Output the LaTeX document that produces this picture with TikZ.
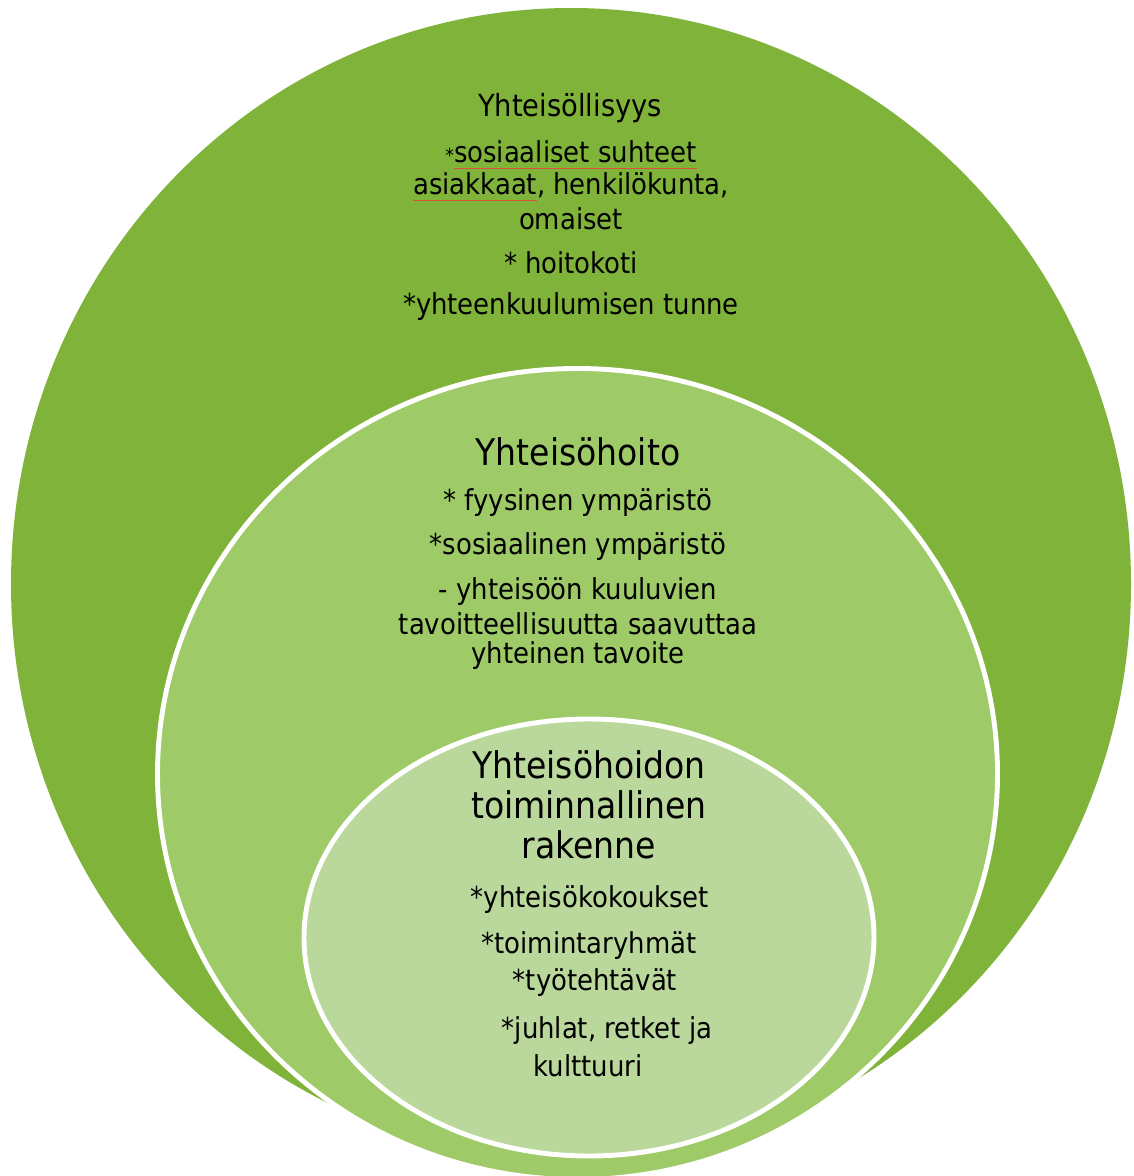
\documentclass[tikz,border=0pt]{standalone}
\usepackage{fontspec}
\setmainfont{DejaVu Sans Condensed}
\definecolor{outerg}{RGB}{128,179,57}
\definecolor{midg}{RGB}{158,202,104}
\definecolor{innerg}{RGB}{186,216,155}
\definecolor{spellred}{RGB}{220,80,60}
\newsavebox{\spellbox}
\newcommand{\spellul}[1]{\sbox{\spellbox}{#1}\rlap{\color{spellred}\rule[-3.5pt]{\wd\spellbox}{0.6pt}}\usebox{\spellbox}}
\tikzset{
  body/.style={font=\fontsize{16.4}{19}\selectfont, text=black, inner sep=0pt, anchor=center},
  head/.style={font=\fontsize{17.3}{20}\selectfont, text=black, inner sep=0pt, anchor=center},
  bighead/.style={font=\fontsize{20.9}{24}\selectfont, text=black, inner sep=0pt, anchor=center},
  ring/.style={draw=white, line width=2.8pt}
}
\begin{document}
\begin{tikzpicture}[x=0.02cm,y=-0.02cm]
\useasboundingbox (0,0) rectangle (1133,1176);
\clip (0,0) rectangle (1133,1176);
% outer
\fill[outerg] (571,584) ellipse [x radius=560, y radius=576];
% middle
\filldraw[fill=midg, ring] (577.5,774) ellipse [x radius=420, y radius=405.5];
% inner
\filldraw[fill=innerg, ring] (589,937.5) ellipse [x radius=285, y radius=218.5];

% outer texts
\node[head] (t1) at (570,108) {Yhteisöllisyys};
\node[body] (t2) at (571,155) {{\fontsize{11}{12}\selectfont *}\spellul{sosiaaliset suhteet}};
\node[body] (t3) at (571,187) {\spellul{asiakkaat}, henkilökunta,};
\node[body] (t4) at (571,219) {omaiset};
\node[body] (t5) at (571,263) {* hoitokoti};
\node[body] (t6) at (571,307) {*yhteenkuulumisen tunne};

% middle texts
\node[bighead] (m1) at (578,452) {Yhteisöhoito};
\node[body] (m2) at (578,503) {* fyysinen ympäristö};
\node[body] (m3) at (578,547) {*sosiaalinen ympäristö};
\node[body] (m4) at (578,592) {- yhteisöön kuuluvien};
\node[body] (m5) at (578,624) {tavoitteellisuutta saavuttaa};
\node[body] (m6) at (578,656) {yhteinen tavoite};

% inner texts
\node[bighead] (i1) at (589,765) {Yhteisöhoidon};
\node[bighead] (i2) at (589,805) {toiminnallinen};
\node[bighead] (i3) at (589,845) {rakenne};
\node[body] (i4) at (590,900) {*yhteisökokoukset};
\node[body] (i5) at (589,946) {*toimintaryhmät};
\node[body] (i6) at (595,983) {*työtehtävät};
\node[body] (i7) at (607,1031) {*juhlat, retket ja};
\node[body] (i8) at (588,1066) {kulttuuri};
\end{tikzpicture}
\end{document}
